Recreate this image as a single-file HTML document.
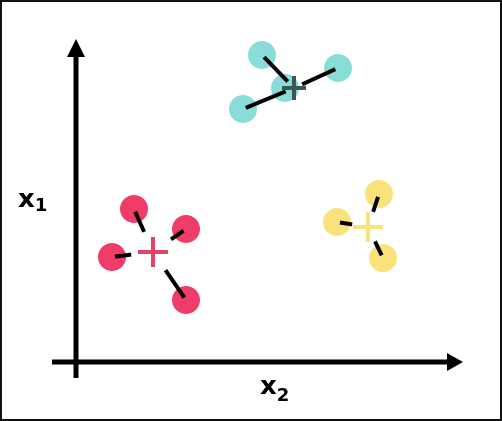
<!DOCTYPE html>
<html><head><meta charset="utf-8"><style>
body{margin:0;background:#fff}
svg{display:block}
text{font-family:"DejaVu Sans","Liberation Sans",sans-serif;font-weight:bold;fill:#000}
</style></head><body>
<svg id="chart" width="502" height="421" viewBox="0 0 502 421">
<rect x="1" y="1" width="500" height="419" fill="#fff" stroke="#111" stroke-width="2"/>
<g id="marks"></g>
<line x1="76" y1="52" x2="76" y2="378" stroke="#000" stroke-width="5"/>
<polygon points="76,39 67,57 85,57" fill="#000"/>
<line x1="52" y1="362" x2="450" y2="362" stroke="#000" stroke-width="5"/>
<polygon points="463,362 447,353 447,371" fill="#000"/>
<text x="18" y="207" font-size="26">x<tspan font-size="18" dy="4">1</tspan></text>
<text x="260" y="394" font-size="26">x<tspan font-size="18" dy="7">2</tspan></text>
</svg>
<script>
const clusterNames = ["cyan","red","yellow"];
const clusterColors = ["#88ddd8","#ef3c68","#f9e27a"];
const crossColors = ["#3f5656","#e24466","#f9e27a"];
const centroidX = [294,153,368];
const centroidY = [88,252,227];
const pointX = [[262,338,243,285],[134,186,112,186],[379,337,383]];
const pointY = [[55,68,109,88],[209,229,257,300],[194,222,258]];
const gaps = [9,22,16];
const ns="http://www.w3.org/2000/svg";
const g=document.getElementById('marks');
function mk(t,a){const e=document.createElementNS(ns,t);for(const k in a)e.setAttribute(k,a[k]);g.appendChild(e);return e;}
for(let c=0;c<clusterNames.length;c++){
  for(let i=0;i<pointX[c].length;i++){
    const e=mk('circle',{cx:pointX[c][i],cy:pointY[c][i],r:14,fill:clusterColors[c]});
    
    
  }
}
for(let c=0;c<clusterNames.length;c++){
  for(let i=0;i<pointX[c].length;i++){
    const px=pointX[c][i],py=pointY[c][i],cx=centroidX[c],cy=centroidY[c];
    const d=Math.hypot(cx-px,cy-py),ux=(cx-px)/d,uy=(cy-py)/d;
    const s=3,eLen=Math.max(d-gaps[c],s+4);
    const l=mk('line',{x1:px+ux*s,y1:py+uy*s,x2:px+ux*eLen,y2:py+uy*eLen,stroke:'#000','stroke-width':4});
    
    
  }
  const a=c===0?12:15;
  const h=mk('path',{d:`M${centroidX[c]-a},${centroidY[c]}H${centroidX[c]+a}M${centroidX[c]},${centroidY[c]-a}V${centroidY[c]+a}`,stroke:crossColors[c],'stroke-width':4,fill:'none'});
  
  
}
</script>
</body></html>
